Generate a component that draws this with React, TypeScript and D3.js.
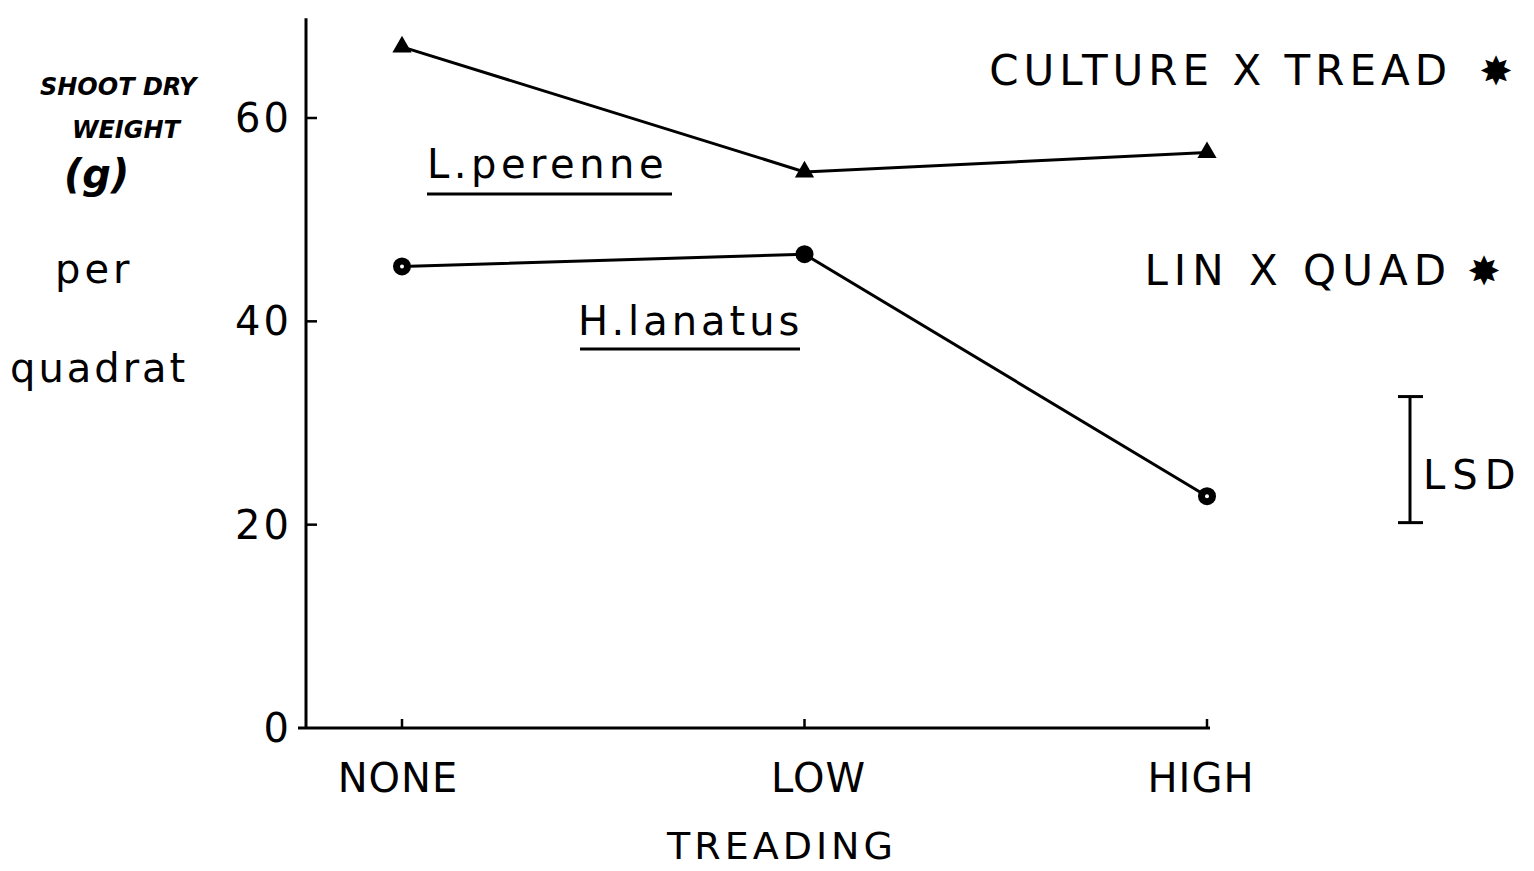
import React from "react";
import * as d3 from "d3";

const categories = ["NONE", "LOW", "HIGH"];
const perenne = [67.0, 54.7, 56.6];
const lanatus = [45.4, 46.6, 22.8];
const yTicks = [0, 20, 40, 60];
const lsdRange = [20.2, 32.6];
const yMaxAxis = 69.8;

const W = 1534;
const H = 871;
const FONT = "'DejaVu Sans', sans-serif";

export default function App() {
  const x = d3.scalePoint<string>().domain(categories).range([402, 1207]);
  const y = d3.scaleLinear().domain([0, 60]).range([728, 118]);
  const axisX = 306;

  const line = d3
    .line<number>()
    .x((_, i) => x(categories[i]) as number)
    .y((d) => y(d));

  const tri = d3.symbol().type(d3.symbolTriangle).size(160)();

  const lsdX = 1410;

  return (
    <svg
      width={W}
      height={H}
      style={{ position: "absolute", left: 0, top: 0, background: "#fff" }}
    >
      {/* axes */}
      <line x1={axisX} x2={axisX} y1={y(0)} y2={y(yMaxAxis)} stroke="#000" strokeWidth={3} />
      <line x1={298} x2={1210} y1={y(0)} y2={y(0)} stroke="#000" strokeWidth={3} />
      {yTicks.filter((t) => t > 0).map((t) => (
        <line key={t} x1={axisX} x2={axisX + 11} y1={y(t)} y2={y(t)} stroke="#000" strokeWidth={2.5} />
      ))}
      {yTicks.map((t) => (
        <text
          key={"l" + t}
          x={axisX - 14}
          y={y(t)}
          textAnchor="end"
          dominantBaseline="central"
          fontFamily={FONT}
          fontSize={40}
          letterSpacing={3}
        >
          {t}
        </text>
      ))}
      {categories.map((c) => (
        <line key={"t" + c} x1={x(c)} x2={x(c)} y1={y(0)} y2={y(0) - 9} stroke="#000" strokeWidth={2.5} />
      ))}
      {categories.map((c, i) => (
        <text
          key={"c" + c}
          x={(x(c) as number) + [-4, 14, -6][i]}
          y={792}
          textAnchor="middle"
          fontFamily={FONT}
          fontSize={40}
          letterSpacing={1}
        >
          {c}
        </text>
      ))}
      <text x={782} y={859} textAnchor="middle" fontFamily={FONT} fontSize={38} letterSpacing={4}>
        TREADING
      </text>

      {/* y label */}
      <g fontFamily={FONT} fontWeight="bold" fontStyle="italic">
        <text x={40} y={95} fontSize={24}>SHOOT DRY</text>
        <text x={72} y={138} fontSize={24}>WEIGHT</text>
        <text x={64} y={188} fontSize={40}>(g)</text>
      </g>
      <text x={55} y={283} fontFamily={FONT} fontSize={40} letterSpacing={4}>per</text>
      <text x={10} y={382} fontFamily={FONT} fontSize={40} letterSpacing={3}>quadrat</text>

      {/* lines */}
      <path d={line(perenne) || ""} fill="none" stroke="#000" strokeWidth={3} />
      <path d={line(lanatus) || ""} fill="none" stroke="#000" strokeWidth={3} />
      {perenne.map((v, i) => (
        <path key={"p" + i} d={tri || ""} transform={`translate(${x(categories[i])},${y(v)})`} fill="#000" />
      ))}
      {lanatus.map((v, i) => (
        <g key={"h" + i}>
          <circle cx={x(categories[i])} cy={y(v)} r={9} fill="#000" />
          {i !== 1 && <circle cx={x(categories[i])} cy={y(v)} r={2} fill="#fff" />}
        </g>
      ))}

      {/* series labels */}
      <text x={427} y={178} fontFamily={FONT} fontSize={40} letterSpacing={4.5}>L.perenne</text>
      <line x1={427} x2={672} y1={194} y2={194} stroke="#000" strokeWidth={3} />
      <text x={578} y={335} fontFamily={FONT} fontSize={40} letterSpacing={4}>H.lanatus</text>
      <line x1={580} x2={800} y1={349} y2={349} stroke="#000" strokeWidth={3} />

      {/* annotations */}
      <text x={1452} y={85} textAnchor="end" fontFamily={FONT} fontSize={42} letterSpacing={5}>
        CULTURE  X  TREAD
      </text>
      <text x={1496} y={85} textAnchor="middle" fontFamily={FONT} fontSize={40}>✸</text>
      <text x={1452} y={285} textAnchor="end" fontFamily={FONT} fontSize={42} letterSpacing={6}>
        LIN  X  QUAD
      </text>
      <text x={1484} y={285} textAnchor="middle" fontFamily={FONT} fontSize={40}>✸</text>

      {/* LSD */}
      <line x1={lsdX} x2={lsdX} y1={y(lsdRange[0])} y2={y(lsdRange[1])} stroke="#000" strokeWidth={3} />
      <line x1={lsdX - 12} x2={lsdX + 13} y1={y(lsdRange[0])} y2={y(lsdRange[0])} stroke="#000" strokeWidth={3} />
      <line x1={lsdX - 12} x2={lsdX + 13} y1={y(lsdRange[1])} y2={y(lsdRange[1])} stroke="#000" strokeWidth={3} />
      <text x={1423} y={489} fontFamily={FONT} fontSize={40} letterSpacing={7}>LSD</text>
    </svg>
  );
}
